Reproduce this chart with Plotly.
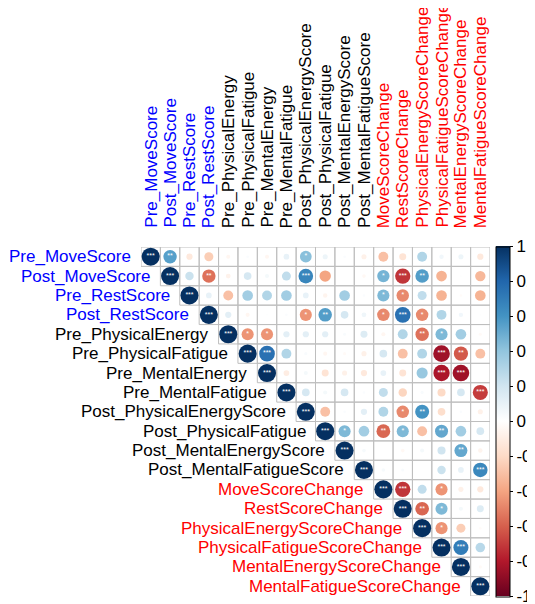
import math
import plotly.graph_objects as go

# ---------------- data ----------------
variables = [
    "Pre_MoveScore", "Post_MoveScore", "Pre_RestScore", "Post_RestScore",
    "Pre_PhysicalEnergy", "Pre_PhysicalFatigue", "Pre_MentalEnergy", "Pre_MentalFatigue",
    "Post_PhysicalEnergyScore", "Post_PhysicalFatigue", "Post_MentalEnergyScore",
    "Post_MentalFatigueScore", "MoveScoreChange", "RestScoreChange",
    "PhysicalEnergyScoreChange", "PhysicalFatigueScoreChange",
    "MentalEnergyScoreChange", "MentalFatigueScoreChange",
]
label_groups = ["blue"] * 4 + ["black"] * 8 + ["red"] * 6

# upper triangle, row i holds correlations with columns i+1 .. 17
corr_upper = [
    [0.55, -0.12, -0.25, -0.05, 0.02, -0.05, 0.10, 0.42, 0.08, 0.02, -0.08, -0.30, -0.15, 0.30, 0.06, 0.08, -0.12],
    [0.22, -0.55, -0.07, 0.18, 0.05, 0.25, 0.66, -0.40, 0.00, -0.04, 0.47, -0.72, 0.56, -0.35, 0.01, -0.33],
    [0.10, -0.30, 0.35, 0.30, 0.35, 0.10, -0.06, 0.35, 0.02, 0.45, -0.48, 0.25, -0.35, -0.02, -0.35],
    [0.12, -0.05, 0.01, 0.02, -0.45, 0.56, 0.18, 0.07, -0.48, 0.75, -0.48, 0.30, 0.06, 0.01],
    [-0.45, -0.45, 0.12, 0.12, 0.12, 0.03, 0.15, -0.05, 0.30, -0.55, 0.45, 0.35, -0.03],
    [0.75, 0.30, 0.03, -0.05, -0.03, -0.08, 0.18, -0.30, 0.30, -0.85, -0.62, -0.30],
    [-0.10, 0.05, -0.15, -0.08, -0.12, 0.10, -0.15, 0.38, -0.82, -0.85, 0.00],
    [0.18, 0.05, 0.18, 0.02, 0.25, -0.22, 0.03, -0.20, 0.18, -0.70],
    [-0.30, 0.02, 0.12, 0.30, -0.48, 0.60, -0.18, 0.02, -0.08],
    [0.45, 0.35, -0.58, 0.45, -0.30, 0.52, 0.35, 0.18],
    [0.04, 0.00, -0.04, 0.05, 0.20, 0.52, -0.06],
    [0.04, 0.03, 0.00, 0.22, 0.10, 0.65],
    [-0.72, 0.25, -0.45, -0.08, -0.12],
    [-0.58, 0.45, 0.05, 0.15],
    [-0.45, -0.25, -0.02],
    [0.70, 0.28],
    [-0.03],
]
stars_upper = [
    ["**", "", "", "", "", "", "", "*", "", "", "", "", "", "", "", "", ""],
    ["", "**", "", "", "", "", "***", "", "", "", "*", "***", "**", "", "", ""],
    ["", "", "", "", "", "", "", "", "", "*", "*", "", "", "", ""],
    ["", "", "", "", "*", "**", "", "", "*", "***", "*", "", "", ""],
    ["*", "*", "", "", "", "", "", "", "", "**", "*", "", ""],
    ["***", "", "", "", "", "", "", "", "", "***", "**", ""],
    ["", "", "", "", "", "", "", "", "***", "***", ""],
    ["", "", "", "", "", "", "", "", "", "***"],
    ["", "", "", "", "*", "**", "", "", ""],
    ["*", "", "**", "*", "", "**", "", ""],
    ["", "", "", "", "", "**", ""],
    ["", "", "", "", "", "***"],
    ["***", "", "*", "", ""],
    ["**", "*", "", ""],
    ["*", "", ""],
    ["***", ""],
    [""],
]

# ---------------- layout constants ----------------
# (page body has an 8px margin, so margins compensate for it)
W, H = 535, 604
ML, MR, MT, MB = 133, 53, 239, 16
n = len(variables)
cell_px = (W - ML - MR) / n
FONT = "Liberation Sans, Arial"
FS = 17

rdbu = ["#67001F", "#B2182B", "#D6604D", "#F4A582", "#FDDBC7", "#FFFFFF",
        "#D1E5F0", "#92C5DE", "#4393C3", "#2166AC", "#053061"]
colorscale = [[k / 10, c] for k, c in enumerate(rdbu)]

xs, ys, vals, sizes, texts = [], [], [], [], []
for i in range(n):
    row_vals = [1.0] + corr_upper[i] if i < n - 1 else [1.0]
    row_stars = ["***"] + stars_upper[i] if i < n - 1 else ["***"]
    for k, (v, s) in enumerate(zip(row_vals, row_stars)):
        j = i + k
        xs.append(j)
        ys.append(i)
        vals.append(v)
        sizes.append(cell_px * 0.93 * math.sqrt(abs(v)))
        texts.append(s)

fig = go.Figure()

# cell grid
shapes = []
for i in range(n):
    for j in range(i, n):
        shapes.append(dict(type="rect", xref="x", yref="y",
                           x0=j - 0.5, x1=j + 0.5, y0=i - 0.5, y1=i + 0.5,
                           line=dict(color="#BEBEBE", width=1), layer="below"))

fig.add_trace(go.Scatter(
    x=xs, y=ys, mode="markers",
    marker=dict(size=sizes, color=vals, colorscale=colorscale, cmin=-1, cmax=1,
                line=dict(width=0), opacity=1,
                showscale=True,
                colorbar=dict(
                    thickness=14, lenmode="pixels", len=350,
                    x=1.017, xanchor="left", xpad=0,
                    y=0.5, yanchor="middle", ypad=0,
                    outlinecolor="black", outlinewidth=1,
                    tickvals=[-1, -0.8, -0.6, -0.4, -0.2, 0, 0.2, 0.4, 0.6, 0.8, 1],
                    ticktext=["-1", "-0.8", "-0.6", "-0.4", "-0.2", "0", "0.2", "0.4", "0.6", "0.8", "1"],
                    ticks="outside", ticklen=3, tickcolor="black",
                    tickfont=dict(size=FS, color="black", family=FONT),
                )),
    hoverinfo="skip", showlegend=False,
))

fig.add_trace(go.Scatter(
    x=xs, y=ys, mode="text", text=texts, textposition="middle center",
    textfont=dict(size=7, color="white", family=FONT),
    hoverinfo="skip", showlegend=False,
))

annotations = []
for i, (name, col) in enumerate(zip(variables, label_groups)):
    c = {"blue": "#0000FF", "black": "#000000", "red": "#FF0000"}[col]
    annotations.append(dict(x=i - 0.5, y=i, xref="x", yref="y", text=name,
                            showarrow=False, xanchor="right", yanchor="middle",
                            xshift=-8, font=dict(size=FS, color=c, family=FONT)))
    annotations.append(dict(x=i, y=-0.5, xref="x", yref="y", text=name,
                            showarrow=False, xanchor="center", yanchor="bottom",
                            textangle=-90, yshift=17,
                            font=dict(size=FS, color=c, family=FONT)))

fig.update_layout(
    width=W, height=H,
    margin=dict(l=ML, r=MR, t=MT, b=MB, autoexpand=False),
    paper_bgcolor="white", plot_bgcolor="white",
    xaxis=dict(range=[-0.5, n - 0.5], visible=False, fixedrange=True),
    yaxis=dict(range=[n - 0.5, -0.5], visible=False, fixedrange=True),
    shapes=shapes, annotations=annotations,
)

fig.write_html("out.html")
